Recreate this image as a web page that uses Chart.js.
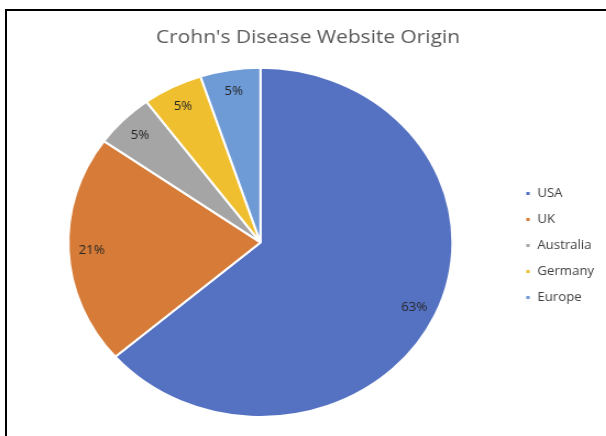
<!DOCTYPE html>
<html>
<head>
<meta charset="utf-8">
<script src="https://cdn.jsdelivr.net/npm/chart.js@4"></script>
<style>
  html, body { margin: 0; padding: 0; background: #fff; overflow: hidden; }
  #frame {
    position: absolute; left: 5px; top: 9px; width: 620px; height: 450px;
    border-left: 2px solid #000; border-top: 2px solid #000;
  }
  /* the original picture is stretched sideways, so the chart is too */
  #wrap {
    position: absolute; left: 0; top: 0; width: 551px; height: 436px;
    transform: scaleX(1.1); transform-origin: 0 0;
  }
</style>
</head>
<body>
<div id="frame"></div>
<div id="wrap"><canvas id="pieChart"></canvas></div>
<script>
const categories = ['USA', 'UK', 'Australia', 'Germany', 'Europe'];
const shares = [63, 21, 5, 5, 5];
const sliceColors = ['#5572C2', '#D67B38', '#A5A5A5', '#F0BF2F', '#6E9BD6'];

// Puts the percentage inside each slice, near the outer edge
const sliceLabels = {
    id: 'sliceLabels',
    afterDatasetsDraw(chart) {
        const ctx = chart.ctx;
        const meta = chart.getDatasetMeta(0);
        ctx.save();
        ctx.font = '12px "Open Sans", sans-serif';
        ctx.fillStyle = '#262626';
        ctx.textAlign = 'center';
        ctx.textBaseline = 'middle';
        meta.data.forEach((arc, i) => {
            const p = arc.getProps(['x', 'y', 'startAngle', 'endAngle', 'outerRadius'], true);
            const mid = (p.startAngle + p.endAngle) / 2;
            const r = p.outerRadius * 0.88;
            ctx.fillText(shares[i] + '%', p.x + Math.cos(mid) * r, p.y + Math.sin(mid) * r + 1);
        });
        ctx.restore();
    }
};

const ctx = document.getElementById('pieChart').getContext('2d');
new Chart(ctx, {
    type: 'pie',
    data: {
        labels: categories,
        datasets: [{
            data: shares,
            backgroundColor: sliceColors,
            borderColor: '#ffffff',
            borderWidth: 2
        }]
    },
    options: {
        responsive: true,
        maintainAspectRatio: false,
        animation: false,
        layout: {
            padding: { top: 26, bottom: 18, left: 10, right: 1 }
        },
        plugins: {
            title: {
                display: true,
                text: "Crohn's Disease Website Origin",
                color: '#595959',
                font: { family: '"Open Sans", sans-serif', size: 19, weight: 'normal' },
                padding: { top: 0, bottom: 18 }
            },
            legend: {
                position: 'right',
                // empty title only pushes the items down a little
                title: { display: true, text: '', font: { size: 1 }, padding: { top: 0, bottom: 46 } },
                labels: {
                    boxWidth: 5,
                    boxHeight: 5,
                    padding: 14,
                    color: '#404040',
                    font: { family: '"Open Sans", sans-serif', size: 12 }
                }
            },
            tooltip: { enabled: false }
        }
    },
    plugins: [sliceLabels]
});
</script>
</body>
</html>
